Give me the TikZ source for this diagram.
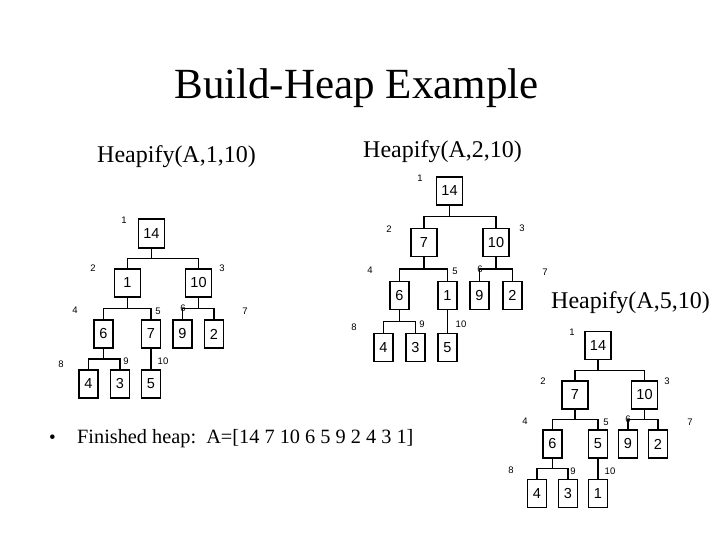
\documentclass[tikz,border=0pt]{standalone}
\usepackage{fontspec}
\setmainfont{Liberation Serif}
\newfontfamily\arial{Liberation Sans}
\usetikzlibrary{calc}
\tikzset{
  box/.style={draw, line width=1.4pt, inner sep=0pt, minimum height=28, font=\arial\fontsize{14.5}{14.5}\selectfont},
  wbox/.style={box, minimum width=26},
  nbox/.style={box, minimum width=19},
  lab/.style={font=\arial\fontsize{9.5}{9.5}\selectfont, inner sep=0pt},
  link/.style={line width=1.4pt},
  txt/.style={inner sep=0pt, anchor=base west},
}
\newcommand{\conn}[2]{\draw[link] (#1.south) |- ($(#1.south)!.5!(#2.north)$) -| (#2.north);}
\begin{document}
\begin{tikzpicture}[x=1pt,y=-1pt]
\useasboundingbox (0,0) rectangle (720,540);
% texts
\node[inner sep=0pt, anchor=base] (title) at (356.5,99) {\fontsize{43}{50}\selectfont Build-Heap Example};
\node[txt] (h1) at (97,163) {\fontsize{24}{28}\selectfont Heapify(A,1,10)};
\node[txt] (h2) at (363,158) {\fontsize{24}{28}\selectfont Heapify(A,2,10)};
\node[txt, anchor=base east] (h3) at (710,308) {\fontsize{24}{28}\selectfont Heapify(A,5,10)};
\node[txt] (bul) at (49,443) {\fontsize{19}{22}\selectfont •};
\node[txt] (fin) at (77,443) {\fontsize{20.3}{24}\selectfont Finished heap:\ \ A=[14 7 10 6 5 9 2 4 3 1]};
% ---------------- tree 1
\node[wbox, minimum height=29] (t1a) at (151.5,233.5) {14};
\node[wbox] (t1b) at (127.5,283) {1};
\node[wbox] (t1c) at (198.5,283) {10};
\node[nbox] (t1d) at (103.5,334) {6};
\node[nbox] (t1e) at (151,334) {7};
\node[nbox] (t1f) at (182.5,334) {9};
\node[nbox] (t1g) at (214,334) {2};
\node[nbox] (t1h) at (88.5,384) {4};
\node[nbox] (t1i) at (120,384) {3};
\node[nbox] (t1j) at (151,384) {5};
\conn{t1a}{t1b}\conn{t1a}{t1c}
\conn{t1b}{t1d}\conn{t1b}{t1e}
\conn{t1c}{t1f}\conn{t1c}{t1g}
\conn{t1d}{t1h}\conn{t1d}{t1i}
\conn{t1e}{t1j}
\node[lab] (l1a) at (124,220) {1};
\node[lab] (l1b) at (93,268) {2};
\node[lab] (l1c) at (222,268) {3};
\node[lab] (l1d) at (75,310) {4};
\node[lab] (l1e) at (158,311) {5};
\node[lab] (l1f) at (183,308) {6};
\node[lab] (l1g) at (245,311) {7};
\node[lab] (l1h) at (61,364) {8};
\node[lab] (l1i) at (126,361) {9};
\node[lab] (l1j) at (163,361) {10};
% ---------------- tree 2
\node[wbox] (t2a) at (449.5,191) {14};
\node[wbox] (t2b) at (424,242.5) {7};
\node[wbox] (t2c) at (496,242.5) {10};
\node[nbox] (t2d) at (399.5,295.5) {6};
\node[nbox] (t2e) at (447.5,295.5) {1};
\node[nbox] (t2f) at (479.5,295.5) {9};
\node[nbox] (t2g) at (512.5,295.5) {2};
\node[nbox] (t2h) at (383.5,347.5) {4};
\node[nbox] (t2i) at (415.5,347.5) {3};
\node[nbox] (t2j) at (447.5,347.5) {5};
\conn{t2a}{t2b}\conn{t2a}{t2c}
\conn{t2b}{t2d}\conn{t2b}{t2e}
\conn{t2c}{t2f}\conn{t2c}{t2g}
\conn{t2d}{t2h}\conn{t2d}{t2i}
\conn{t2e}{t2j}
\node[lab] (l2a) at (420,178) {1};
\node[lab] (l2b) at (389,229) {2};
\node[lab] (l2c) at (522,228) {3};
\node[lab] (l2d) at (370,270) {4};
\node[lab] (l2e) at (455,271) {5};
\node[lab] (l2f) at (480,269) {6};
\node[lab] (l2g) at (545,272) {7};
\node[lab] (l2h) at (354,327) {8};
\node[lab] (l2i) at (422,324) {9};
\node[lab] (l2j) at (461,324) {10};
% ---------------- tree 3
\begin{scope}[every node/.append style={minimum height=26.5}]
\node[wbox] (t3a) at (598,345.5) {14};
\node[wbox] (t3b) at (575,395) {7};
\node[wbox] (t3c) at (644.5,395) {10};
\node[nbox] (t3d) at (552.5,444) {6};
\node[nbox] (t3e) at (598,444) {5};
\node[nbox] (t3f) at (628,444) {9};
\node[nbox] (t3g) at (658,444) {2};
\node[nbox] (t3h) at (537,493.5) {4};
\node[nbox] (t3i) at (568,493.5) {3};
\node[nbox] (t3j) at (598,493.5) {1};
\end{scope}
\conn{t3a}{t3b}\conn{t3a}{t3c}
\conn{t3b}{t3d}\conn{t3b}{t3e}
\conn{t3c}{t3f}\conn{t3c}{t3g}
\conn{t3d}{t3h}\conn{t3d}{t3i}
\conn{t3e}{t3j}
\node[lab] (l3a) at (572,332) {1};
\node[lab] (l3b) at (543,381) {2};
\node[lab] (l3c) at (667,381) {3};
\node[lab] (l3d) at (525,421) {4};
\node[lab] (l3e) at (606,422) {5};
\node[lab] (l3f) at (628,419) {6};
\node[lab] (l3g) at (690,422) {7};
\node[lab] (l3h) at (511,470) {8};
\node[lab] (l3i) at (573,471) {9};
\node[lab] (l3j) at (610,471) {10};
\end{tikzpicture}
\end{document}
